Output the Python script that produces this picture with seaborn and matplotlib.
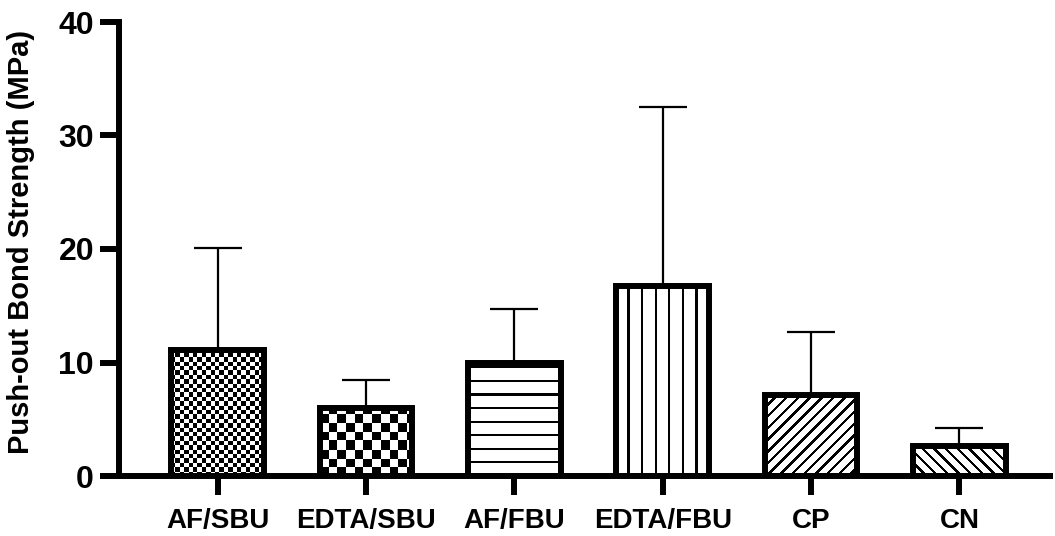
import numpy as np
import pandas as pd
import matplotlib
matplotlib.use("Agg")
import matplotlib.pyplot as plt
import seaborn as sns

# Push-out bond strength per group: mean and (upper) standard deviation
groups = ["AF/SBU", "EDTA/SBU", "AF/FBU", "EDTA/FBU", "CP", "CN"]
mean_strength = [11.1, 6.0, 10.0, 16.7, 7.1, 2.6]
sd_strength = [9.0, 2.5, 4.7, 15.8, 5.55, 1.6]
y_ticks = [0, 10, 20, 30, 40]
fill_styles = ["checker_fine", "checker_coarse", "hlines", "vlines", "diag_up", "diag_down"]

sns.set_style("ticks")
plt.rcParams["font.family"] = ["Liberation Sans", "DejaVu Sans"]
plt.rcParams["font.weight"] = "bold"
for key in ("text.color", "axes.labelcolor", "xtick.color", "ytick.color", "axes.edgecolor"):
    plt.rcParams[key] = "black"

df = pd.DataFrame({"group": groups, "strength": mean_strength, "sd": sd_strength})

fig = plt.figure(figsize=(10.55, 5.36), dpi=100)
ax = fig.add_axes([119 / 1055, 60 / 536, 931 / 1055, 454 / 536])

sns.barplot(data=df, x="group", y="strength", order=groups, width=0.625,
            color="white", edgecolor="black", linewidth=4.3,
            errorbar=None, ax=ax, zorder=3)
for bar in ax.patches:
    bar.set_facecolor("none")

# one-sided (upper) error bars, drawn beneath the bars
ax.errorbar(np.arange(len(groups)), df["strength"],
            yerr=[np.zeros(len(groups)), df["sd"]],
            fmt="none", ecolor="black", elinewidth=1.6,
            capsize=17, capthick=1.6, zorder=1)

ax.set_xlim(-0.664, 5.61)
ax.set_ylim(0, 40)
fig.canvas.draw()
renderer = fig.canvas.get_renderer()


def fill_mask(kind, w, h):
    ix, iy = np.meshgrid(np.arange(w) + 0.5, np.arange(h) + 0.5)
    if kind == "checker_fine":
        c = 4.4
        return ((ix // c).astype(int) + (iy // c).astype(int)) % 2 == 0
    if kind == "checker_coarse":
        c = 8.7
        return ((ix // c).astype(int) + (iy // c).astype(int)) % 2 == 0
    if kind == "hlines":
        sp, lw = 13.6, 2.2
        v = iy % sp
        return (v < lw / 2) | (v > sp - lw / 2)
    if kind == "vlines":
        sp, lw = 13.6, 2.2
        u = (ix - w / 2 + sp / 2) % sp
        return (u < lw / 2) | (u > sp - lw / 2)
    if kind == "diag_up":
        return ((ix - iy) % 11.7) < 3.4
    if kind == "diag_down":
        return ((ix + iy) % 11.7) < 3.4
    return np.zeros_like(ix, dtype=bool)


for bar, kind in zip(ax.patches, fill_styles):
    bb = bar.get_window_extent(renderer)
    w, h = int(round(bb.width)), int(round(bb.height))
    img = np.where(fill_mask(kind, w, h), 0.0, 1.0)
    x0, y0 = bar.get_x(), bar.get_y()
    ax.imshow(img, cmap="gray", vmin=0, vmax=1, origin="lower", aspect="auto",
              extent=(x0, x0 + bar.get_width(), y0, y0 + bar.get_height()),
              interpolation="nearest", zorder=2, clip_path=bar)

ax.set_xlim(-0.664, 5.61)
ax.set_ylim(0, 40)
ax.set_yticks(y_ticks)
ax.set_xlabel("")
ax.set_ylabel("Push-out Bond Strength (MPa)", fontsize=21, fontweight="bold", color="black")
ax.yaxis.set_label_coords(-0.09, 0.515)

sns.despine(ax=ax)
for side in ("left", "bottom"):
    ax.spines[side].set_linewidth(4.3)
    ax.spines[side].set_color("black")
ax.tick_params(axis="both", direction="out", length=14, width=4.3,
               color="black", labelcolor="black")
ax.tick_params(axis="y", labelsize=23, pad=4)
ax.tick_params(axis="x", labelsize=20, pad=9)
for lab in ax.get_xticklabels() + ax.get_yticklabels():
    lab.set_fontweight("bold")

fig.savefig("out.png", dpi=100, facecolor="white")
